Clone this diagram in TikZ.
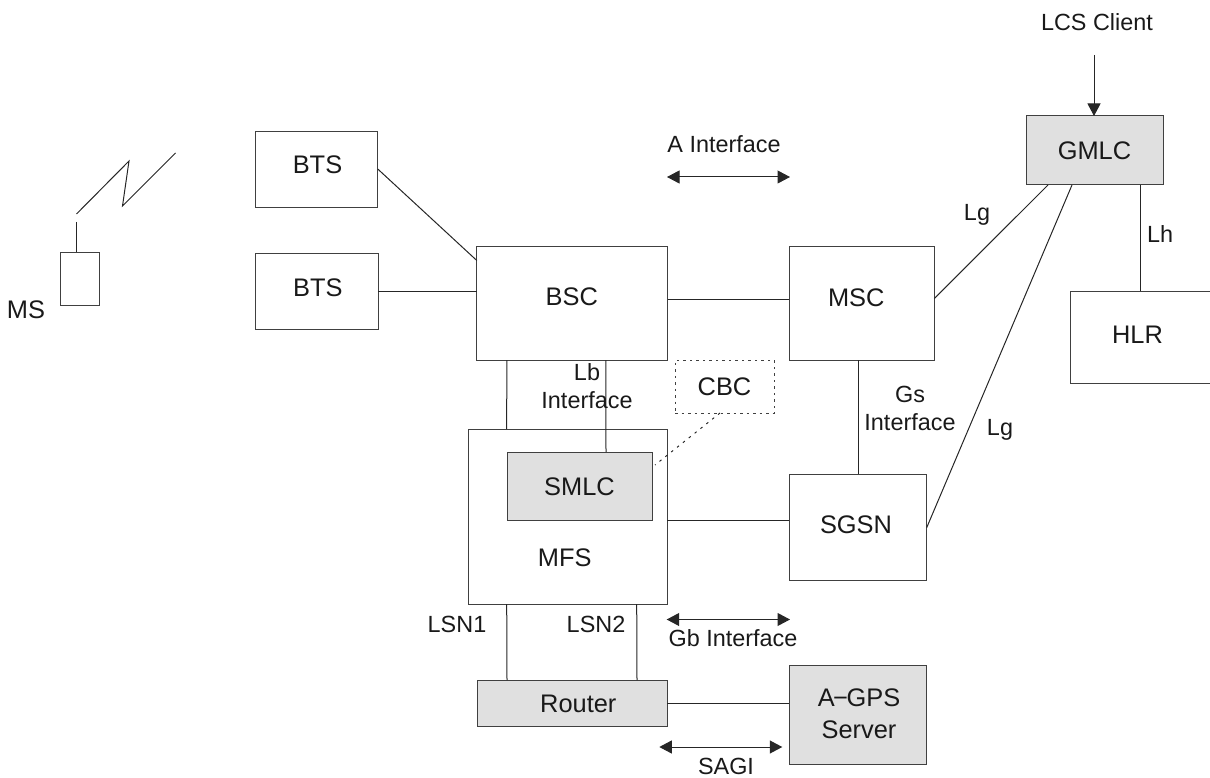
\documentclass[tikz,border=0pt]{standalone}
\usepackage{fontspec}
\setmainfont{Liberation Sans}
\usetikzlibrary{arrows.meta}
\tikzset{
  lbl/.style={font=\fontsize{23.4}{28}\selectfont,inner sep=0pt,outer sep=0pt,text height=16.8pt,text depth=0pt,text=black!90},
  lblb/.style={font=\fontsize{25.4}{31}\selectfont,inner sep=0pt,outer sep=0pt,text height=18.2pt,text depth=0pt,text=black!90},
  mlbl/.style={font=\fontsize{23.4}{28}\selectfont,inner sep=0pt,outer sep=0pt,align=center,text=black!90},
  mlblb/.style={font=\fontsize{25.4}{32.5}\selectfont,inner sep=0pt,outer sep=0pt,align=center,text=black!90},
  box/.style={draw=black!75,line width=1pt,inner sep=0pt,outer sep=0pt},
  gbox/.style={box,fill=black!12},
  dbox/.style={draw=black!75,line width=1pt,inner sep=0pt,outer sep=0pt,dash pattern=on 2.5pt off 4pt},
  conn/.style={draw=black!85,line width=1pt},
  dconn/.style={draw=black!85,line width=1pt,dash pattern=on 2.5pt off 5pt},
  tips/.style={conn,{Triangle[length=12.5pt,width=13pt]}-{Triangle[length=12.5pt,width=13pt]}},
  tip/.style={conn,-{Triangle[length=12.5pt,width=13pt]}}
}
\begin{document}
\begin{tikzpicture}[x=1pt,y=-1pt]
\useasboundingbox (0,0) rectangle (1210,778);
% boxes
\node[box,minimum width=38.5pt,minimum height=53pt] (ms) at (80.2,278.5) {};
\node[box,minimum width=122.5pt,minimum height=76.5pt,label={[lblb,xshift=1pt,yshift=5.5pt]center:BTS}] (bts1) at (316.5,169.5) {};
\node[box,minimum width=122.5pt,minimum height=76.5pt,label={[lblb,xshift=1pt,yshift=4.5pt]center:BTS}] (bts2) at (316.8,291.5) {};
\node[box,minimum width=191pt,minimum height=114pt,label={[lblb,xshift=-0.5pt,yshift=7pt]center:BSC}] (bsc) at (572.3,303) {};
\node[box,minimum width=145pt,minimum height=114pt,label={[lblb,xshift=-5.5pt,yshift=6pt]center:MSC}] (msc) at (861.8,303) {};
\node[box,minimum width=139.5pt,minimum height=92pt,label={[lblb,xshift=-3pt,yshift=3pt]center:HLR}] (hlr) at (1140.5,337) {};
\node[gbox,minimum width=137pt,minimum height=69pt,lblb] (gmlc) at (1094.5,150.5) {GMLC};
\node[dbox,minimum width=99pt,minimum height=53pt,lblb] (cbc) at (724.5,386.5) {CBC};
\node[box,minimum width=198.5pt,minimum height=175pt,label={[lblb,xshift=-3.5pt,yshift=-40.5pt]center:MFS}] (mfs) at (568.2,516.5) {};
\node[gbox,minimum width=145pt,minimum height=68pt,lblb] (smlc) at (579.5,486) {SMLC};
\node[box,minimum width=137.4pt,minimum height=106.7pt,label={[lblb,xshift=-2pt,yshift=3.6pt]center:SGSN}] (sgsn) at (858,527.6) {};
\node[gbox,minimum width=190pt,minimum height=46pt,label={[lblb,xshift=6pt,yshift=0pt]center:Router}] (router) at (572.3,703) {};
\node[gbox,minimum width=137.4pt,minimum height=99pt,label={[mlblb,xshift=1pt,yshift=0.5pt]center:A\kern-1.5pt−\kern-1.5ptGPS\\Server}] (agps) at (858,714.5) {};
% free ends
\coordinate (aerial) at (76.5,222);
\coordinate (z1) at (76.5,214);
\coordinate (z2) at (129,161);
\coordinate (z3) at (122.5,206);
\coordinate (z4) at (175.5,153);
\coordinate (lcs) at (1094,55);
\coordinate (al) at (667,177);
\coordinate (ar) at (790,177);
\coordinate (gl) at (666.7,619.5);
\coordinate (gr) at (790,619.5);
\coordinate (sl) at (659.3,747);
\coordinate (sr) at (782.3,747);
% connectors
\draw[conn] (aerial) -- (ms.north -| aerial);
\draw[conn] (z1) -- (z2) -- (z3) -- (z4);
\draw[conn] ([yshift=0.5pt]bts1.east) -- ([yshift=-14.5pt]bsc.north west);
\draw[conn] (bts2.east) -- (bts2.east -| bsc.west);
\draw[conn] ([yshift=4pt]bsc.east) -- ([yshift=4pt]msc.west);
\draw[conn] ([xshift=-65.5pt]bsc.south) -- ([xshift=-61.5pt]mfs.north);
\draw[conn] ([xshift=33.5pt]bsc.south) -- ([xshift=26.5pt]smlc.north);
\draw[dconn] ([xshift=-4.5pt]cbc.south) -- ([xshift=3pt,yshift=21pt]smlc.east);
\draw[conn] ([xshift=-3.8pt]msc.south) -- (sgsn.north);
\draw[conn] ([yshift=7.3pt]mfs.east |- sgsn.west) -- ([yshift=7.3pt]sgsn.west);
\draw[conn] ([xshift=-61.5pt]mfs.south) -- ([xshift=-65.3pt]router.north);
\draw[conn] ([xshift=68.5pt]mfs.south) -- ([xshift=64.7pt]router.north);
\draw[conn] (router.east) -- (router.east -| agps.west);
\draw[conn] ([yshift=4.5pt]msc.east) -- ([xshift=-46.5pt]gmlc.south);
\draw[conn] (sgsn.east) -- ([xshift=-22.5pt]gmlc.south);
\draw[conn] ([xshift=45.5pt]gmlc.south) -- ([xshift=-0.5pt]hlr.north);
\draw[tip] (lcs) -- (gmlc.north -| lcs);
\draw[tips] (al) -- (ar);
\draw[tips] (gl) -- (gr);
\draw[tips] (sl) -- (sr);
% labels
\node[lblb] (tms) at (26,309) {MS};
\node[lbl] (tlcs) at (1097,22) {LCS Client};
\node[lbl] (tai) at (724,144) {A Interface};
\node[lbl] (tlg1) at (977,212) {Lg};
\node[lbl] (tlh) at (1160,234) {Lh};
\node[lbl] (tlg2) at (1000,427) {Lg};
\node[mlbl] (tlb) at (587,386) {Lb\\Interface};
\node[mlbl] (tgs) at (910,408) {Gs\\Interface};
\node[lbl] (tl1) at (457,624) {LSN1};
\node[lbl] (tl2) at (596,624) {LSN2};
\node[lbl] (tgb) at (733,638) {Gb Interface};
\node[lbl] (tsagi) at (726,766) {SAGI};
\end{tikzpicture}
\end{document}
